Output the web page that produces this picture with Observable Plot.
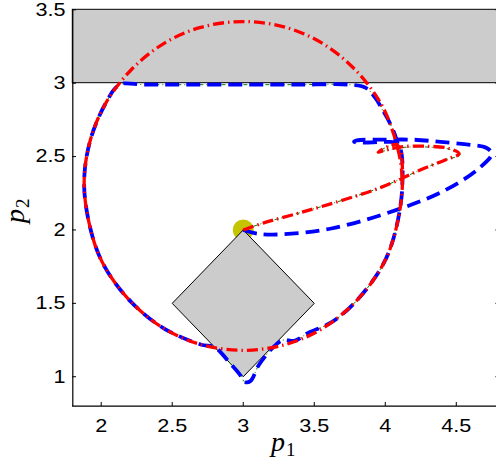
<!DOCTYPE html>
<html><head><meta charset="utf-8">
<script src="https://cdn.jsdelivr.net/npm/d3@7"></script>
<script src="https://cdn.jsdelivr.net/npm/@observablehq/plot@0.6"></script>
<style>body{margin:0;background:#fff} svg{display:block}</style>
</head><body><div id="chart"></div>
<script>
// tick values
const xTicks = [2, 2.5, 3, 3.5, 4, 4.5];
const yTicks = [1, 1.5, 2, 2.5, 3, 3.5];

// obstacles
const bandX1 = [1.8], bandX2 = [4.8], bandY1 = [3.0], bandY2 = [3.5];
const diamondP1 = [3.0, 3.5, 3.0, 2.5, 3.0];
const diamondP2 = [2.0, 1.5, 1.0, 1.5, 2.0];
const startP1 = [3.0], startP2 = [2.0];

// red trajectory (dash-dot, thick)
const redP1 = [3.00,3.15,3.41,3.69,3.97,4.25,4.43,4.52,4.45,4.30,4.10,3.95,
  4.084,4.12,4.06,3.97,3.79,3.56,3.30,3.00,2.70,2.44,2.21,2.03,1.94,1.88,1.92,2.03,2.21,2.44,2.70,3.00,3.30,3.56,3.79,3.97,4.06,4.11,4.12];
const redP2 = [2.00,2.05,2.12,2.20,2.29,2.41,2.48,2.52,2.555,2.57,2.565,2.53,
  2.58,2.30,1.95,1.74,1.51,1.33,1.22,1.18,1.22,1.33,1.51,1.74,1.95,2.30,2.60,2.86,3.09,3.27,3.38,3.42,3.38,3.27,3.09,2.86,2.65,2.45,2.30];

// blue trajectory (dashed, thick)
const blueP1 = [3.00,3.10,3.27,3.62,4.09,4.42,4.66,4.75,4.71,4.60,4.39,4.20,3.99,3.80,3.78,3.85,4.00,4.09,
  4.12,4.06,3.97,3.79,3.62,3.46,3.36,3.28,3.21,3.11,3.05,3.01,2.98,2.90,2.80,2.70,2.44,2.21,2.03,1.94,1.88,1.92,2.03,2.13,
  2.30,2.60,3.00,3.40,3.75,3.86,3.93,3.98,4.01,4.06,4.09];
const blueP2 = [2.00,1.975,1.97,2.01,2.14,2.27,2.42,2.52,2.56,2.58,2.60,2.615,2.615,2.61,2.60,2.595,2.60,2.585,
  2.30,1.95,1.74,1.51,1.37,1.30,1.245,1.25,1.20,1.08,0.97,0.965,1.01,1.10,1.20,1.22,1.33,1.51,1.74,1.95,2.30,2.60,2.86,2.99,
  2.99,2.99,2.99,2.99,2.99,2.97,2.90,2.82,2.77,2.67,2.58];

// green trajectory (thin dash-dot)
const greenP1 = [3.00,3.15,3.41,3.69,3.97,4.25,4.43,4.53,4.45,4.30,4.10,3.95,4.084,
  4.12,4.06,3.97,3.79,3.62,3.46,3.36,3.28,3.21,3.11,3.05,3.01,2.98,2.90,2.80,2.70,2.44,2.21,2.03,1.94,1.88,1.92,2.03,2.13,
  2.30,2.60,3.00,3.40,3.75,3.86,3.93,3.98,4.01,4.06,4.09];
const greenP2 = [2.00,2.05,2.12,2.20,2.29,2.41,2.48,2.51,2.55,2.565,2.56,2.53,2.58,
  2.30,1.95,1.74,1.51,1.37,1.30,1.245,1.25,1.20,1.08,0.97,0.965,1.01,1.10,1.20,1.22,1.33,1.51,1.74,1.95,2.30,2.60,2.86,2.99,
  2.99,2.99,2.99,2.99,2.99,2.97,2.90,2.82,2.77,2.67,2.58];

const pts = (a, b) => a.map((v, i) => ({p1: v, p2: b[i]}));
const band = bandX1.map((v, i) => ({x1: v, x2: bandX2[i], y1: bandY1[i], y2: bandY2[i]}));

const chart = Plot.plot({
  width: 496, height: 466,
  marginLeft: 72, marginRight: 0, marginTop: 9, marginBottom: 60,
  x: {domain: [1.8, 4.8], range: [72.3, 498.4]},
  y: {domain: [0.8, 3.5], range: [405.6, 9.3]},
  style: {fontFamily: "Liberation Sans, Arial, sans-serif", fontSize: "18px", color: "black", background: "white"},
  marks: [
    Plot.rect(band, {x1: "x1", x2: "x2", y1: "y1", y2: "y2", fill: "#cccccc", stroke: "black", strokeWidth: 1}),
    Plot.dot(pts(startP1, startP2), {x: "p1", y: "p2", r: 10.5, fill: "#c4c400", stroke: "none"}),
    Plot.line(pts(diamondP1, diamondP2), {x: "p1", y: "p2", fill: "#cccccc", stroke: "black", strokeWidth: 1}),
    Plot.line(pts(greenP1, greenP2), {x: "p1", y: "p2", curve: "catmull-rom", stroke: "#008000", strokeWidth: 1, strokeDasharray: "4,3,1,3", strokeLinecap: "butt"}),
    Plot.line(pts(blueP1, blueP2), {x: "p1", y: "p2", curve: "catmull-rom", stroke: "#0000ff", strokeWidth: 3.8, strokeDasharray: "14,7", strokeLinecap: "butt"}),
    Plot.line(pts(redP1, redP2), {x: "p1", y: "p2", curve: "catmull-rom", stroke: "#ff0000", strokeWidth: 3.3, strokeDasharray: "11,4,1.5,4", strokeLinecap: "butt"}),
    Plot.ruleX([1.8], {stroke: "black", strokeWidth: 1.2}),
    Plot.ruleY([0.8], {stroke: "black", strokeWidth: 1.2}),
    Plot.axisX(xTicks, {anchor: "bottom", tickSize: -4, tickPadding: 17, fontSize: 18, label: null, tickFormat: d => String(d)}),
    Plot.axisY(yTicks, {anchor: "left", tickSize: -4, tickPadding: 11, fontSize: 18, label: null, tickFormat: d => String(d)}),
    Plot.axisY(yTicks, {anchor: "right", tickSize: -4, dx: 2.4, label: null, tickFormat: () => ""})
  ]
});
document.getElementById("chart").appendChild(chart);

const svg = d3.select(chart);
// the reference's tick glyphs are drawn wider than usual: stretch them horizontally
svg.selectAll("text").each(function () {
  this.style.fontSize = "18px";
  this.style.fontFamily = "Liberation Sans, Arial, sans-serif";
  const t = this.getAttribute("transform") || "";
  this.setAttribute("transform", t + " scale(1.2,1)");
});

const xl = svg.append("text").attr("x", 271).attr("y", 451).attr("text-anchor", "start")
  .attr("font-family", "Liberation Serif, DejaVu Serif, serif").attr("font-size", 28).attr("fill", "black");
xl.append("tspan").attr("font-style", "italic").text("p");
xl.append("tspan").attr("font-size", 19).attr("dy", 5).attr("dx", 1).text("1");
const yl = svg.append("text").attr("transform", "translate(24,223) rotate(-90)").attr("text-anchor", "start")
  .attr("font-family", "Liberation Serif, DejaVu Serif, serif").attr("font-size", 28).attr("fill", "black");
yl.append("tspan").attr("font-style", "italic").text("p");
yl.append("tspan").attr("font-size", 19).attr("dy", 5).attr("dx", 1).text("2");
</script>
</body></html>
